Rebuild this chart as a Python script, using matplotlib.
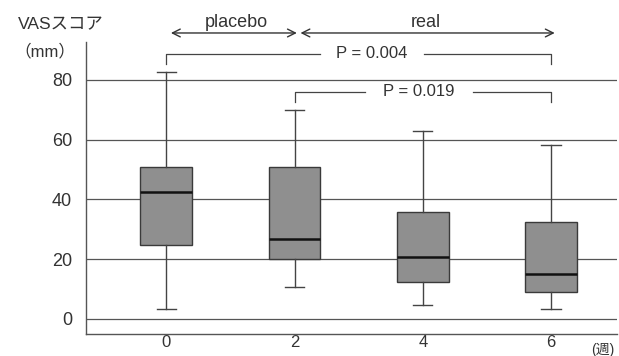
import numpy as np
import matplotlib
matplotlib.use("Agg")
import matplotlib.pyplot as plt

plt.rcParams['font.family'] = ['Liberation Sans', 'Noto Sans CJK JP']

# data (VAS score, mm)
weeks = [0, 2, 4, 6]
whislo = [3.3, 10.8, 4.8, 3.4]
q1 = [24.9, 20.2, 12.4, 8.9]
med = [42.6, 26.7, 20.8, 15.2]
q3 = [50.9, 50.8, 35.9, 32.4]
whishi = [82.6, 70.0, 63.0, 58.1]
yticks = [0, 20, 40, 60, 80]
pvals = ["P = 0.004", "P = 0.019"]

txt = '#333333'
line = '#555555'

fig = plt.figure(figsize=(6.19, 3.56), dpi=100)
ax = fig.add_axes([0.139, 0.062, 0.858, 0.821])

stats = []
for i in range(len(weeks)):
    stats.append(dict(whislo=whislo[i], q1=q1[i], med=med[i], q3=q3[i], whishi=whishi[i], fliers=[]))

ax.bxp(stats, positions=weeks, widths=0.81, patch_artist=True, showfliers=False,
       boxprops=dict(facecolor='#8f8f8f', edgecolor='#3a3a3a', linewidth=1.0),
       medianprops=dict(color='#111111', linewidth=1.8),
       whiskerprops=dict(color='#444444', linewidth=1.0),
       capprops=dict(color='#444444', linewidth=1.0),
       capwidths=0.3, zorder=3)

for y in yticks:
    ax.axhline(y, color=line, lw=0.9, zorder=1)

ax.set_xlim(-1.25, 7.03)
ax.set_ylim(-5, 92.8)
ax.set_xticks(weeks)
ax.set_xticklabels([str(w) for w in weeks])
ax.set_yticks(yticks)
ax.tick_params(length=0, labelsize=13, colors=txt)
ax.tick_params(axis='y', pad=10)
ax.tick_params(axis='x', pad=1, labelsize=12)
for s in ['top', 'right']:
    ax.spines[s].set_visible(False)
for s in ['left', 'bottom']:
    ax.spines[s].set_color(line)
    ax.spines[s].set_linewidth(1.0)

# labels
ax.text(-1.65, 98.3, "VASスコア", fontsize=12.5, color=txt, ha='center', va='center', clip_on=False)
ax.text(-1.89, 89.6, "（mm）", fontsize=12, color=txt, ha='center', va='center', clip_on=False)
ax.text(6.8, -10.2, "(週)", fontsize=10, color=txt, ha='center', va='center', clip_on=False)

# phase arrows
arr = dict(arrowstyle='<->', color='#333333', lw=1.0, mutation_scale=14)
ax.annotate("", xy=(0.03, 95.7), xytext=(2.08, 95.7), arrowprops=arr, annotation_clip=False)
ax.annotate("", xy=(2.05, 95.7), xytext=(6.1, 95.7), arrowprops=arr, annotation_clip=False)
ax.text(1.1, 99.3, "placebo", fontsize=13, color=txt, ha='center', va='center', clip_on=False)
ax.text(4.05, 99.3, "real", fontsize=13, color=txt, ha='center', va='center', clip_on=False)

# significance brackets
def bracket(x0, x1, y, label, gap0, gap1):
    kw = dict(color='#444444', lw=0.9, clip_on=False)
    ax.plot([x0, x0, gap0], [y - 3.5, y, y], **kw)
    ax.plot([gap1, x1, x1], [y, y, y - 3.5], **kw)
    ax.text((gap0 + gap1) / 2, y, label, fontsize=12, color=txt, ha='center', va='center', clip_on=False)

bracket(0, 6, 88.7, pvals[0], 2.4, 4.02)
bracket(2, 6, 76.0, pvals[1], 3.1, 4.78)

fig.savefig("out.png", dpi=100)
